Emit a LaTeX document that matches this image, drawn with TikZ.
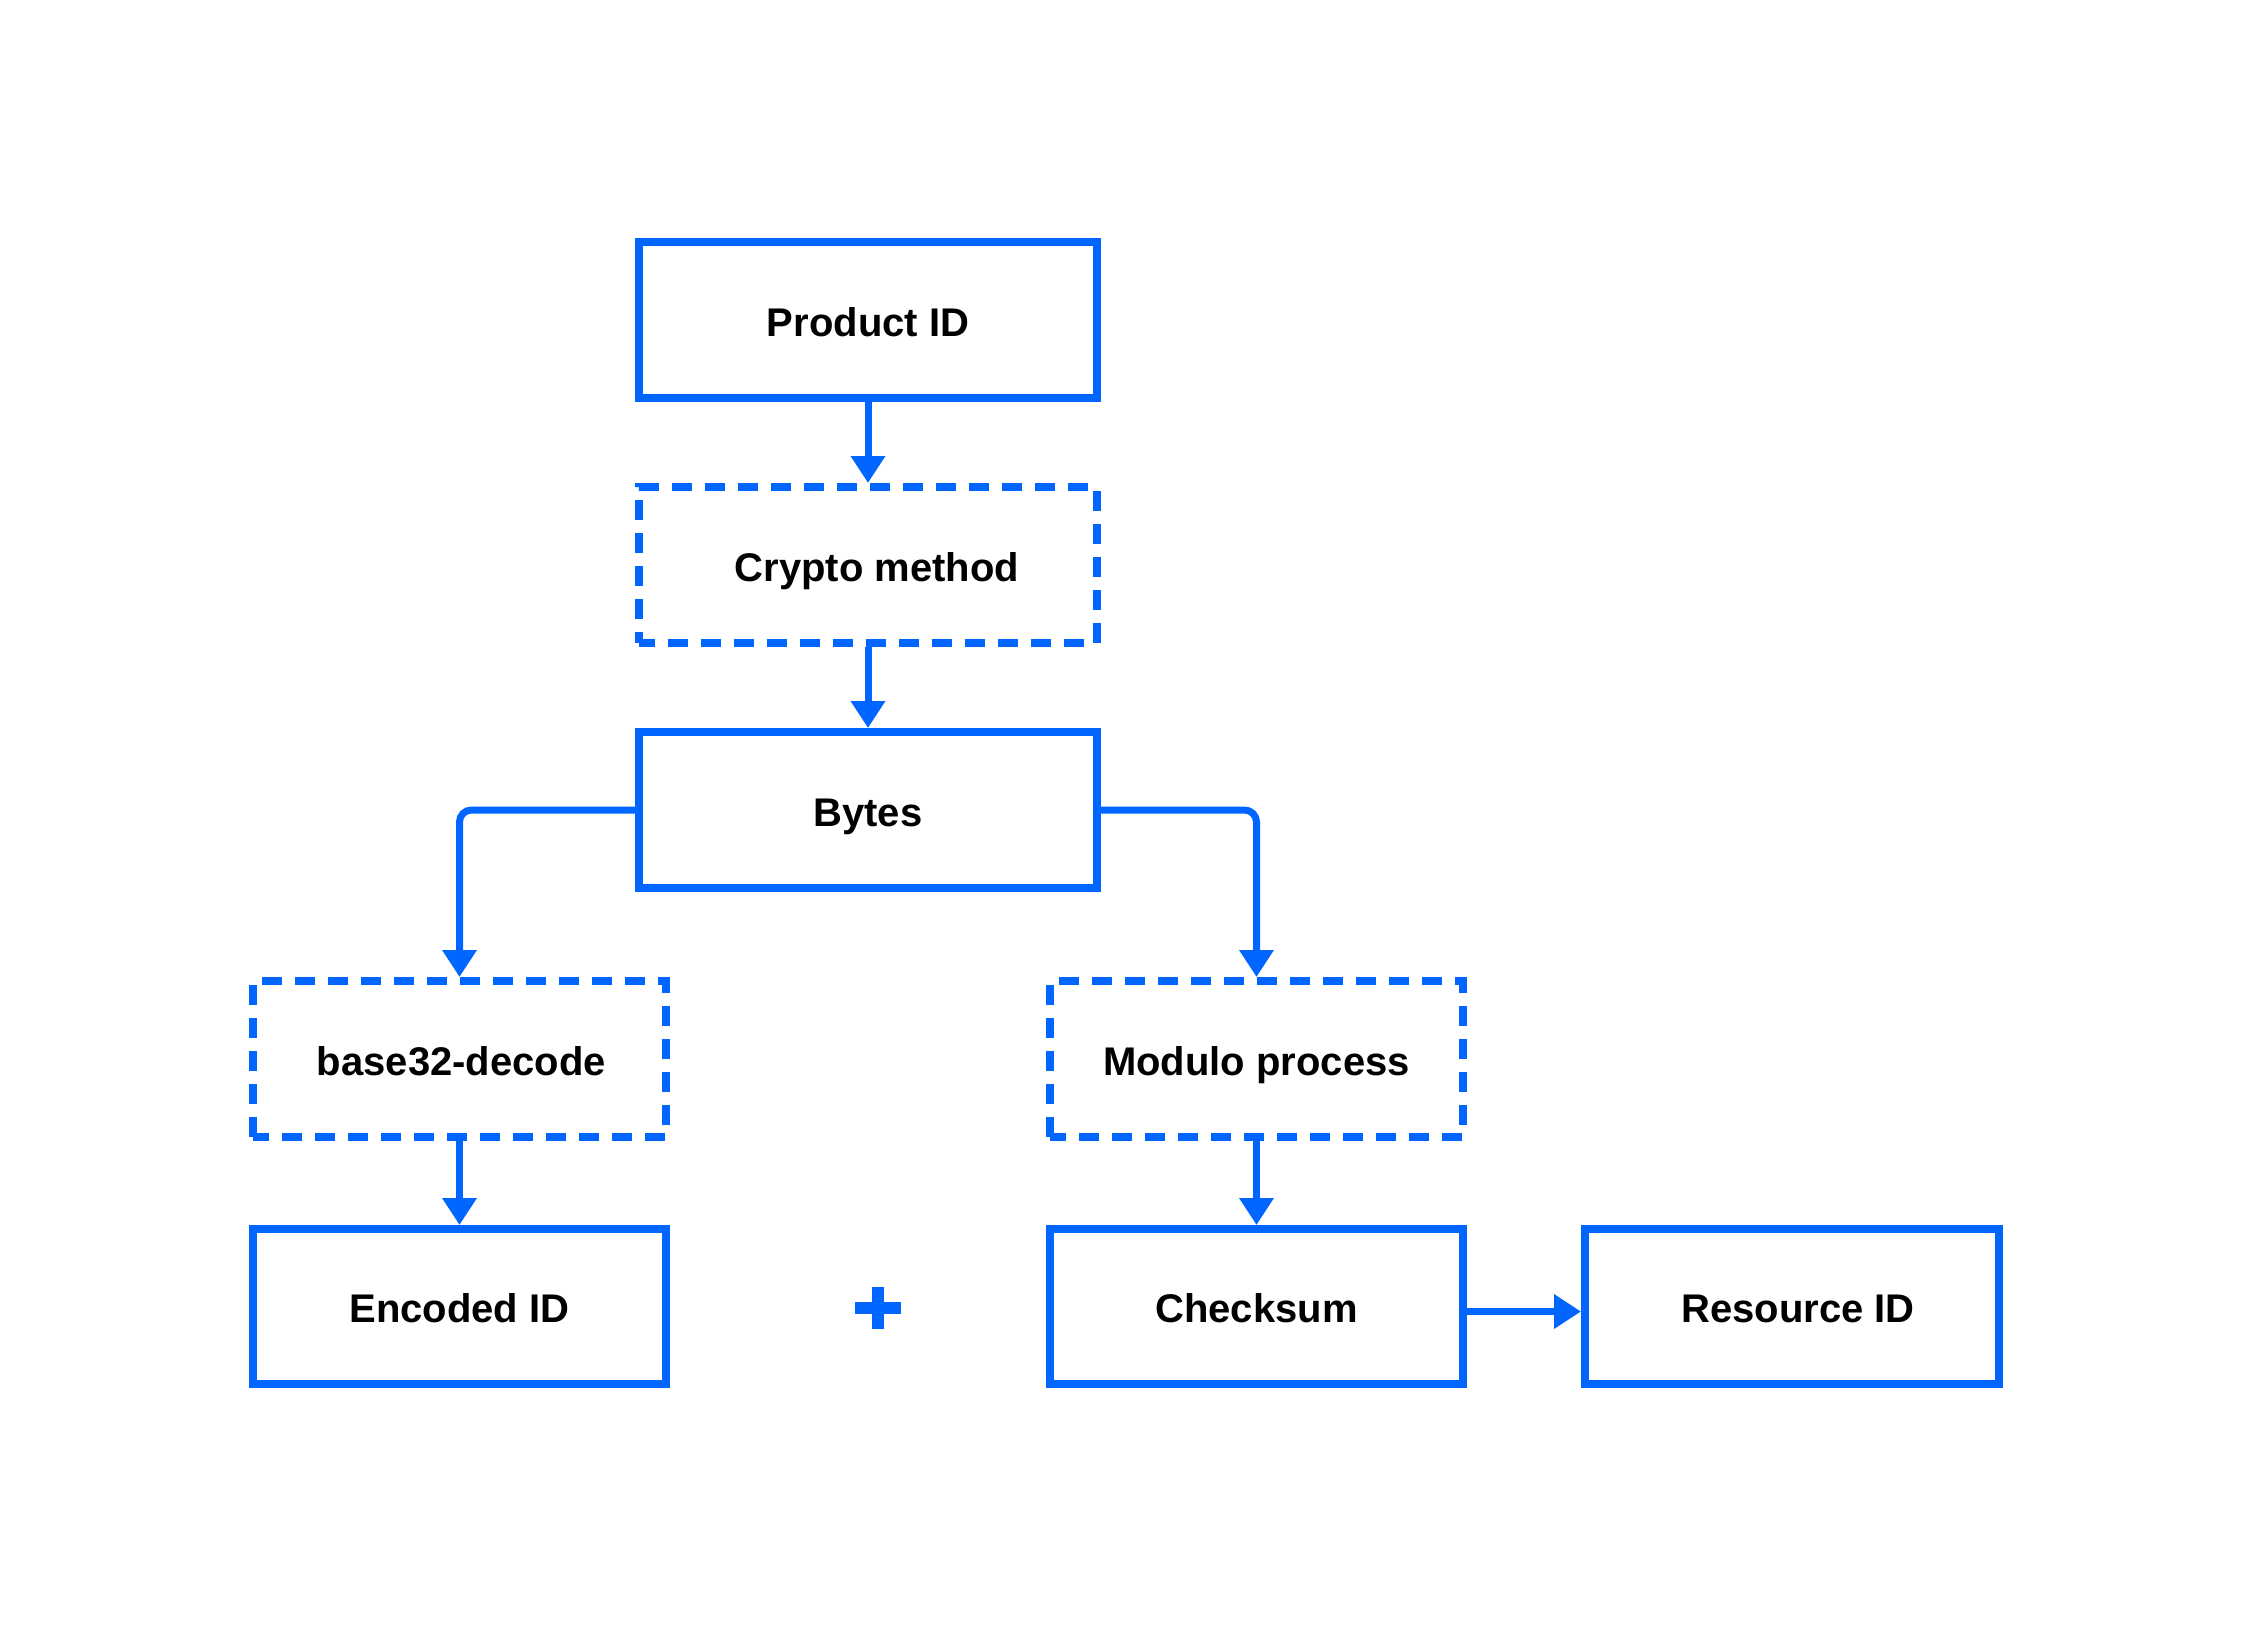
\documentclass[tikz,border=0pt]{standalone}
\usepackage{fontspec}
\setmainfont{Liberation Sans}
\usetikzlibrary{arrows.meta}
\definecolor{bblue}{RGB}{0,102,255}
\begin{document}
\begin{tikzpicture}[x=1pt,y=-1pt,
  box/.style={draw=bblue, line width=8pt, fill=white, inner sep=0pt,
    text height=32.6pt, text depth=0pt,
    font=\fontsize{40}{48}\selectfont\bfseries, text=black},
  dbox/.style={box, dash pattern=on 20pt off 13pt, dash phase=4pt},
  conn/.style={draw=bblue, line width=7pt, -{Triangle[length=27pt,width=33pt]}},
]
\useasboundingbox[fill=white] (0,0) rectangle (2251,1628);
\node[box, minimum width=458pt, minimum height=156pt] (prod) at (868,320) {Product ID};
\node[dbox, minimum width=458pt, minimum height=156pt] (crypto) at (868,565) {\hspace*{18pt}Crypto method};
\node[box, minimum width=458pt, minimum height=156pt] (bytes) at (868,810) {Bytes};
\node[dbox, minimum width=413pt, minimum height=156pt] (b32) at (459.5,1059) {\hspace*{4pt}base32-decode};
\node[dbox, minimum width=413pt, minimum height=156pt] (mod) at (1256.5,1059) {Modulo process};
\node[box, minimum width=413pt, minimum height=155pt] (enc) at (459.5,1306.5) {Encoded ID};
\node[box, minimum width=413pt, minimum height=155pt] (chk) at (1256.5,1306.5) {Checksum};
\node[box, minimum width=414pt, minimum height=155pt] (res) at (1792,1306.5) {\hspace*{12pt}Resource ID};
% plus sign
\fill[bblue] (855,1302) rectangle (901,1314);
\fill[bblue] (872,1287) rectangle (884,1329);
% connectors
\draw[conn] (prod.south) -- (crypto.north);
\draw[conn] (crypto.south) -- (bytes.north);
\draw[conn, rounded corners=12pt] (bytes.west) -| (b32.north);
\draw[conn, rounded corners=12pt] (bytes.east) -| (mod.north);
\draw[conn] (b32.south) -- (enc.north);
\draw[conn] (mod.south) -- (chk.north);
\draw[conn] ([yshift=-5pt]chk.east) -- ([yshift=-5pt]res.west);
\end{tikzpicture}
\end{document}
